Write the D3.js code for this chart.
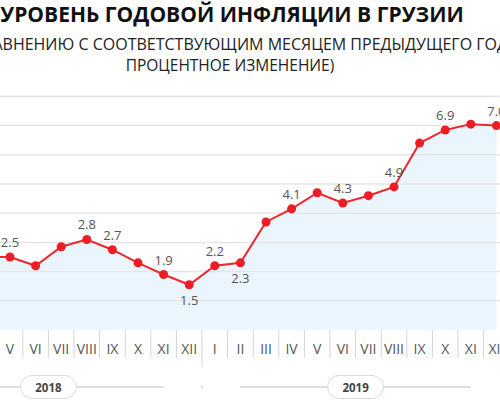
<!DOCTYPE html>
<html>
<head>
<meta charset="utf-8">
<script src="https://cdn.jsdelivr.net/npm/d3@7"></script>
<style>
  body { margin: 0; background: #fff; }
  svg { display: block; font-family: "Open Sans", "Noto Sans", sans-serif; }
</style>
</head>
<body>
<svg id="chart" width="500" height="400"></svg>
<script>
// months counted from I 2018 = 0; chart shows IV 2018 .. XII 2019
var monthIndex = [3,4,5,6,7,8,9,10,11,12,13,14,15,16,17,18,19,20,21,22,23];
var monthLabels = ["IV","V","VI","VII","VIII","IX","X","XI","XII",
                   "I","II","III","IV","V","VI","VII","VIII","IX","X","XI","XII"];
var inflation = [2.5, 2.5, 2.2, 2.85, 3.1, 2.75, 2.3, 1.9, 1.55,
                 2.2, 2.3, 3.7, 4.15, 4.7, 4.35, 4.6, 4.9, 6.4, 6.85, 7.05, 7.0];
var pointLabels = [null, "2.5", null, null, "2.8", "2.7", null, "1.9", "1.5",
                   "2.2", "2.3", null, "4.1", null, "4.3", null, "4.9", null, "6.9", null, "7.0"];
var labelBelow = ["1.5", "2.3"];
var years = ["2018", "2019"];
var gridValues = [1, 2, 3, 4, 5, 6, 7, 8];

var title = "УРОВЕНЬ ГОДОВОЙ ИНФЛЯЦИИ В ГРУЗИИ";
var subtitle1 = "(ПО СРАВНЕНИЮ С СООТВЕТСТВУЮЩИМ МЕСЯЦЕМ ПРЕДЫДУЩЕГО ГОДА,";
var subtitle2 = "ПРОЦЕНТНОЕ ИЗМЕНЕНИЕ)";

var svg = d3.select("#chart");

var x = d3.scaleLinear().domain([3, 23]).range([-15.6, 496.4]);
var y = d3.scaleLinear().domain([0, 8]).range([330, 96.4]);
var step = x(1) - x(0);

var data = monthIndex.map(function(m, i){
  return {m: m, label: monthLabels[i], v: inflation[i], text: pointLabels[i]};
});

// titles
svg.append("text")
  .attr("x", 232).attr("y", 22)
  .attr("text-anchor", "middle")
  .style("font-size", "21px").style("font-weight", "bold").style("fill", "#111")
  .text(title);
svg.append("text")
  .attr("x", 231).attr("y", 50)
  .attr("text-anchor", "middle")
  .style("font-size", "16px").style("fill", "#222")
  .text(subtitle1);
svg.append("text")
  .attr("x", 230).attr("y", 71)
  .attr("text-anchor", "middle")
  .style("font-size", "15.5px").style("fill", "#222")
  .text(subtitle2);

// area under line
var area = d3.area()
  .x(function(d){ return x(d.m); })
  .y0(y(0))
  .y1(function(d){ return y(d.v); });
svg.append("path")
  .datum(data)
  .attr("d", area)
  .attr("fill", "#ebf5fd");

// gridlines
svg.append("g")
  .selectAll("line")
  .data(gridValues)
  .enter().append("line")
    .attr("x1", 0).attr("x2", 500)
    .attr("y1", function(d){ return y(d); })
    .attr("y2", function(d){ return y(d); })
    .attr("stroke", "#e6e6e6")
    .attr("stroke-width", 1.5);

// line + dots
var line = d3.line()
  .x(function(d){ return x(d.m); })
  .y(function(d){ return y(d.v); });
svg.append("path")
  .datum(data)
  .attr("d", line)
  .attr("fill", "none")
  .attr("stroke", "#f0262c")
  .attr("stroke-width", 2);

svg.append("g")
  .selectAll("circle")
  .data(data)
  .enter().append("circle")
    .attr("cx", function(d){ return x(d.m); })
    .attr("cy", function(d){ return y(d.v); })
    .attr("r", 4.5)
    .attr("fill", "#ee1c25");

// value labels
svg.append("g")
  .selectAll("text")
  .data(data.filter(function(d){ return d.text; }))
  .enter().append("text")
    .attr("x", function(d){ return x(d.m); })
    .attr("y", function(d){
      return labelBelow.indexOf(d.text) >= 0 ? y(d.v) + 20 : y(d.v) - 10;
    })
    .attr("text-anchor", "middle")
    .style("font-size", "13px").style("fill", "#555")
    .text(function(d){ return d.text; });

// month axis
var axis = svg.append("g");
axis.selectAll("line.sep")
  .data(data)
  .enter().append("line")
    .attr("class", "sep")
    .attr("x1", function(d){ return x(d.m) + step / 2; })
    .attr("x2", function(d){ return x(d.m) + step / 2; })
    .attr("y1", 330)
    .attr("y2", function(d){ return d.m % 12 === 11 ? 367 : 358; })
    .attr("stroke", "#d4d4d4");
axis.selectAll("text")
  .data(data)
  .enter().append("text")
    .attr("x", function(d){ return x(d.m); })
    .attr("y", 354)
    .attr("text-anchor", "middle")
    .style("font-size", "14px").style("fill", "#555")
    .text(function(d){ return d.label; });

// year axis
var yearG = svg.append("g")
  .selectAll("g")
  .data(years)
  .enter().append("g");
yearG.append("line")
  .attr("x1", function(d, i){ return x(12 * i + 1); })
  .attr("x2", function(d, i){ return x(12 * i + 10); })
  .attr("y1", 387).attr("y2", 387)
  .attr("stroke", "#bdbdbd").attr("stroke-width", 1.2);
yearG.append("rect")
  .attr("x", function(d, i){ return x(12 * i + 5.5) - 28; })
  .attr("y", 375.5)
  .attr("width", 56).attr("height", 23)
  .attr("rx", 11.5)
  .attr("fill", "#fff")
  .attr("stroke", "#d9d9d9");
yearG.append("text")
  .attr("x", function(d, i){ return x(12 * i + 5.5); })
  .attr("y", 392)
  .attr("text-anchor", "middle")
  .style("font-size", "11.5px").style("font-weight", "bold").style("fill", "#444")
  .text(function(d){ return d; });
svg.append("circle")
  .attr("cx", x(11.5)).attr("cy", 387).attr("r", 1)
  .attr("fill", "#ccc");
</script>
</body>
</html>
